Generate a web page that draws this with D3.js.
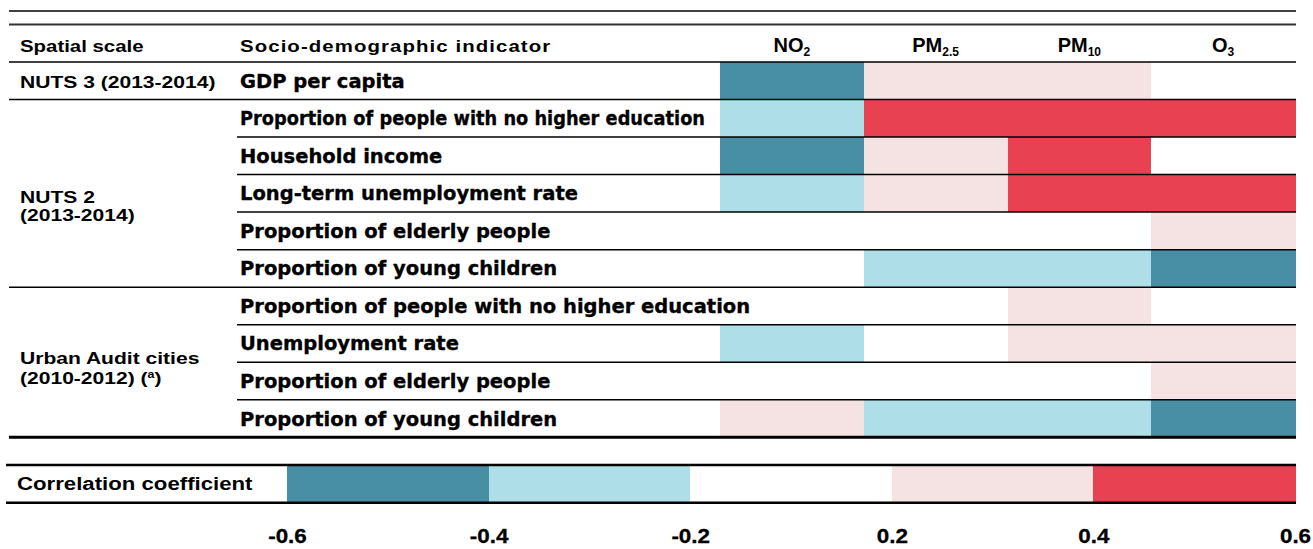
<!DOCTYPE html>
<html>
<head>
<meta charset="utf-8">
<script src="https://cdn.jsdelivr.net/npm/d3@7"></script>
<style>
  html, body { margin: 0; padding: 0; background: #fff; }
  svg { display: block; }
</style>
</head>
<body>
<svg id="chart" width="1313" height="549"></svg>
<script>
// ---------------- data ----------------
const pollutantBase = ["NO", "PM", "PM", "O"];
const pollutantSub = ["2", "2.5", "10", "3"];
const pollutants = ["NO2", "PM2.5", "PM10", "O3"];

const groupLabels = [
  ["NUTS 3 (2013-2014)"],
  ["NUTS 2", "(2013-2014)"],
  ["Urban Audit cities", "(2010-2012) ("]
];
const groupSizes = [1, 5, 4];

const indicators = [
  "GDP per capita",
  "Proportion of people with no higher education",
  "Household income",
  "Long-term unemployment rate",
  "Proportion of elderly people",
  "Proportion of young children",
  "Proportion of people with no higher education",
  "Unemployment rate",
  "Proportion of elderly people",
  "Proportion of young children"
];

// correlation class (representative value of the legend band)
const no2Values  = [-0.5, -0.3, -0.5, -0.3, 0, 0, 0, -0.3, 0, 0.3];
const pm25Values = [0.3, 0.5, 0.3, 0.3, 0, -0.3, 0, 0, 0, -0.3];
const pm10Values = [0.3, 0.5, 0.5, 0.5, 0, -0.3, 0.3, 0.3, 0, -0.3];
const o3Values   = [0, 0.5, 0, 0.5, 0.3, -0.5, 0, 0.3, 0.3, -0.5];

const legendTicks = ["-0.6", "-0.4", "-0.2", "0.2", "0.4", "0.6"];
const legendTitle = "Correlation coefficient";

// ---------------- drawing ----------------
const svg = d3.select("#chart");
const seriesValues = [no2Values, pm25Values, pm10Values, o3Values];

const color = d3.scaleThreshold()
  .domain([-0.4, -0.2, 0.2, 0.4])
  .range(["#488ea5", "#aedfe8", "#ffffff", "#f5e3e4", "#e84252"]);

const x = d3.scaleBand().domain(pollutants).range([720, 1295]);
const y = d3.scaleBand().domain(d3.range(indicators.length)).range([62, 437.3]);

const LEFT = 9, RIGHT = 1296, IND_X = 240;
const armFont = "'Liberation Sans', Arial, sans-serif";
const heavyFont = "'DejaVu Sans', sans-serif";
const SX = 1.2; // horizontal stretch of the Arial-like labels

function wideText(sel, tx, ty, str, sx) {
  return sel.append("text")
    .attr("transform", `translate(${tx},${ty}) scale(${sx || SX},1)`)
    .text(str);
}

// cells
const cells = [];
seriesValues.forEach((vals, j) => vals.forEach((v, i) => cells.push({ i, p: pollutants[j], v })));
svg.append("g").attr("shape-rendering", "crispEdges").selectAll("rect").data(cells).join("rect")
  .attr("x", d => x(d.p))
  .attr("y", d => y(d.i))
  .attr("width", x.bandwidth() + 0.5)
  .attr("height", y.bandwidth())
  .attr("fill", d => color(d.v));

// top rules
svg.append("line").attr("x1", LEFT).attr("x2", RIGHT).attr("y1", 11).attr("y2", 11)
  .attr("stroke", "#000").attr("stroke-width", 1.5);
svg.append("line").attr("x1", LEFT).attr("x2", RIGHT).attr("y1", 24.5).attr("y2", 24.5)
  .attr("stroke", "#333").attr("stroke-width", 2);
svg.append("line").attr("x1", LEFT).attr("x2", RIGHT).attr("y1", y(0)).attr("y2", y(0))
  .attr("stroke", "#000").attr("stroke-width", 1.5);

// header
const hdr = svg.append("g").attr("font-family", armFont).attr("font-weight", "bold")
  .attr("font-size", 17).attr("fill", "#000");
wideText(hdr, 20, 52, "Spatial scale");
wideText(hdr, IND_X, 52, "Socio-demographic indicator").attr("letter-spacing", 0.9);

const ph = svg.append("g").attr("font-family", armFont).attr("font-weight", "bold")
  .attr("font-size", 20).attr("fill", "#000");
pollutants.forEach((p, j) => {
  const t = ph.append("text").attr("x", x(p) + x.bandwidth() / 2).attr("y", 52)
    .attr("text-anchor", "middle");
  t.append("tspan").text(pollutantBase[j]);
  t.append("tspan").attr("font-size", 12).attr("dy", 4).text(pollutantSub[j]);
});

// row separators and group labels
let start = 0;
const grp = svg.append("g").attr("font-family", armFont).attr("font-weight", "bold")
  .attr("font-size", 17).attr("fill", "#000");
const groupLabelOffsets = [[7], [9.5, 27.5], [2, 22]]; // relative to group centre
groupSizes.forEach((n, g) => {
  const top = y(start);
  const bottom = y(start + n - 1) + y.bandwidth();
  const mid = (top + bottom) / 2;
  for (let k = start + 1; k < start + n; k++) {
    svg.append("line").attr("x1", IND_X - 3).attr("x2", RIGHT)
      .attr("y1", y(k)).attr("y2", y(k)).attr("stroke", "#000").attr("stroke-width", 1.5);
  }
  const last = g === groupSizes.length - 1;
  svg.append("line").attr("x1", LEFT).attr("x2", RIGHT)
    .attr("y1", bottom).attr("y2", bottom).attr("stroke", "#000")
    .attr("stroke-width", last ? 3 : 1.5);
  groupLabels[g].forEach((line, li) => {
    const t = wideText(grp, 20, mid + groupLabelOffsets[g][li], line, 1.24);
    if (g === 2 && li === 1) {
      t.append("tspan").attr("font-size", 10).attr("dy", -6).text("a");
      t.append("tspan").attr("dy", 6).text(")");
    }
  });
  start += n;
});

// indicator labels
const ind = svg.append("g").attr("font-family", heavyFont).attr("font-weight", "bold")
  .attr("font-size", 19.5).attr("fill", "#000").attr("stroke", "#000").attr("stroke-width", 0.35);
indicators.forEach((label, i) => {
  const t = ind.append("text").attr("x", IND_X).attr("y", y(i) + y.bandwidth() / 2 + 7).text(label);
  const avail = x(pollutants[0]) - IND_X - 15;
  const rowHasNo2 = no2Values[i] !== 0;
  const w = t.node().getComputedTextLength();
  if (rowHasNo2 && w > avail) {
    t.attr("textLength", avail).attr("lengthAdjust", "spacingAndGlyphs");
  }
});

// legend
const lx = d3.scalePoint().domain(legendTicks).range([287, 1295]);
const legTop = 465, legBot = 502.7;
const bands = d3.pairs(legendTicks).map(([a, b]) => ({ a, b, mid: (+a + +b) / 2 }));
svg.append("g").attr("shape-rendering", "crispEdges").selectAll("rect").data(bands).join("rect")
  .attr("x", d => lx(d.a)).attr("width", d => lx(d.b) - lx(d.a) + 0.5)
  .attr("y", legTop).attr("height", legBot - legTop)
  .attr("fill", d => color(d.mid));
[legTop, legBot].forEach(v => svg.append("line").attr("x1", 6).attr("x2", RIGHT)
  .attr("y1", v).attr("y2", v).attr("stroke", "#000").attr("stroke-width", 2.5));
const lt = svg.append("g").attr("font-family", armFont).attr("font-weight", "bold").attr("font-size", 18.5);
wideText(lt, 17, 490, legendTitle, 1.2);

const axis = d3.axisBottom(lx).tickSize(0).tickPadding(0);
const ax = svg.append("g").attr("transform", "translate(0,543)").call(axis);
ax.select(".domain").remove();
ax.selectAll("text").attr("font-family", armFont).attr("font-weight", "bold")
  .attr("font-size", 19.5).attr("fill", "#000")
  .attr("stroke", "#000").attr("stroke-width", 0.3)
  .attr("dy", 0).attr("y", 0).attr("transform", "scale(1.15,1)");
</script>
</body>
</html>
